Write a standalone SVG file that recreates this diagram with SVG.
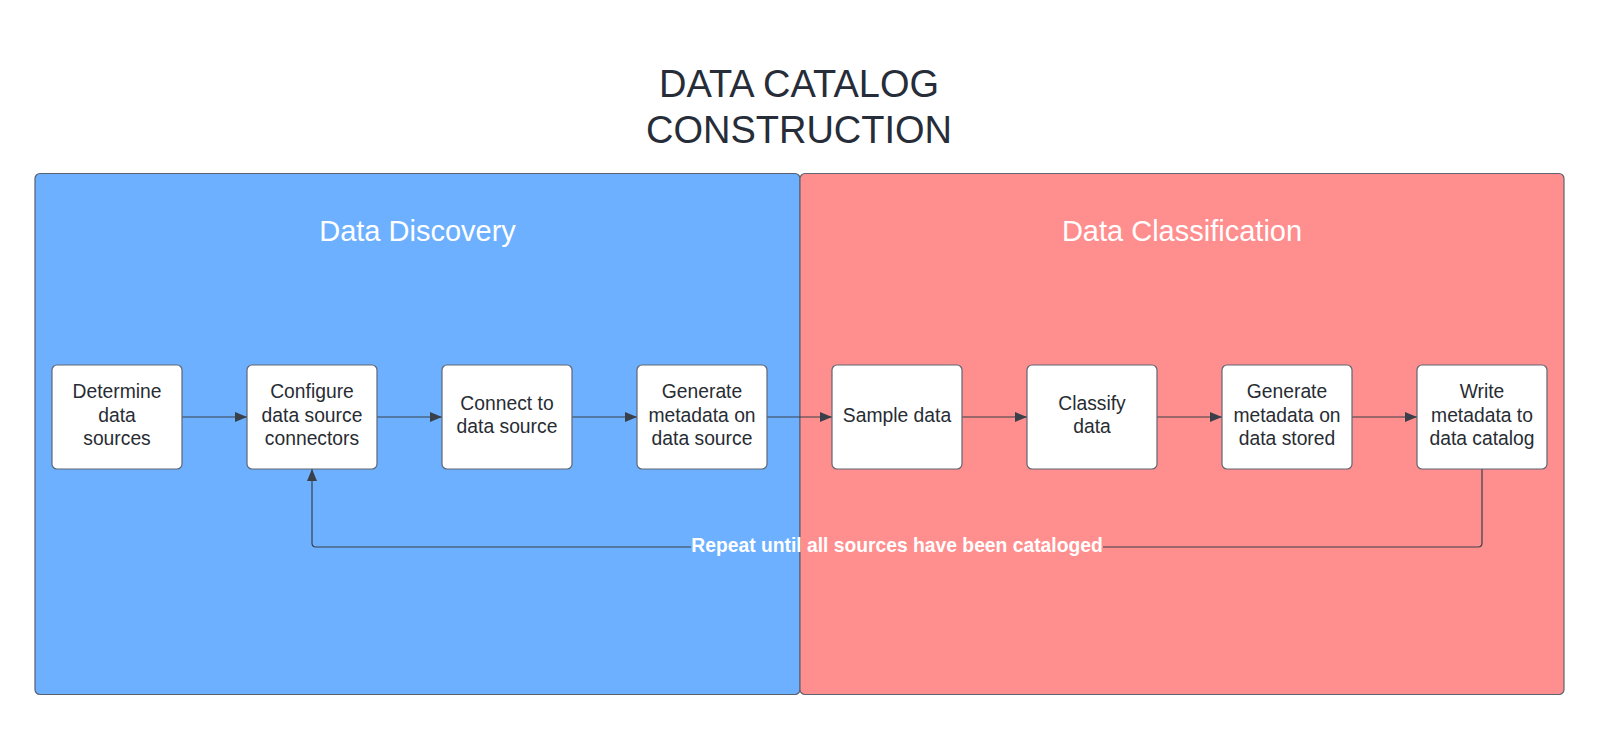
<svg xmlns="http://www.w3.org/2000/svg" width="1600" height="730" viewBox="0 0 1600 730">
<defs>
<marker id="ah" viewBox="0 0 12 10" refX="12" refY="5" markerWidth="12" markerHeight="10" markerUnits="userSpaceOnUse" orient="auto">
<path d="M0,0 L12,5 L0,10 z" fill="#3a4049"/>
</marker>
</defs>
<style>
.title{font-family:"Liberation Sans",Arial,sans-serif;font-size:38px;fill:#272d38;text-anchor:middle}
.head{font-family:"Liberation Sans",Arial,sans-serif;font-size:29px;fill:#ffffff;text-anchor:middle}
.box{fill:#ffffff;stroke:#5f6672;stroke-width:1.2}
.lbl{font-family:"Liberation Sans",Arial,sans-serif;font-size:19.3px;fill:#282c33;text-anchor:middle}
.conn{fill:none;stroke:#3a4049;stroke-width:1.2}
.rep{font-family:"Liberation Sans",Arial,sans-serif;font-size:19.3px;font-weight:bold;fill:#ffffff;text-anchor:middle}
</style>
<rect width="1600" height="730" fill="#ffffff"/>
<g id="title">
<text class="title" x="799" y="97">DATA CATALOG</text>
<text class="title" x="799" y="143">CONSTRUCTION</text>
</g>
<g id="panel-discovery">
<rect x="35" y="173.5" width="765" height="521" rx="5" fill="#6db0ff" stroke="#56606e" stroke-width="1.2"/>
<text class="head" x="417.5" y="241">Data Discovery</text>
</g>
<g id="panel-classification">
<rect x="800" y="173.5" width="764" height="521" rx="5" fill="#ff8e8e" stroke="#5e6470" stroke-width="1.2"/>
<text class="head" x="1182" y="241">Data Classification</text>
</g>
<g id="connectors">
<line class="conn" x1="182" y1="417" x2="247" y2="417" marker-end="url(#ah)"/>
<line class="conn" x1="377" y1="417" x2="442" y2="417" marker-end="url(#ah)"/>
<line class="conn" x1="572" y1="417" x2="637" y2="417" marker-end="url(#ah)"/>
<line class="conn" x1="767" y1="417" x2="832" y2="417" marker-end="url(#ah)"/>
<line class="conn" x1="962" y1="417" x2="1027" y2="417" marker-end="url(#ah)"/>
<line class="conn" x1="1157" y1="417" x2="1222" y2="417" marker-end="url(#ah)"/>
<line class="conn" x1="1352" y1="417" x2="1417" y2="417" marker-end="url(#ah)"/>
<path class="conn" d="M1482,469 V543 Q1482,547 1478,547 H1103"/>
<path class="conn" d="M691,547 H316 Q312,547 312,543 V469" marker-end="url(#ah)"/>
<text class="rep" x="897" y="552">Repeat until all sources have been cataloged</text>
</g>
<g id="n1">
<rect class="box" x="52" y="365" width="130" height="104" rx="5"/>
<text class="lbl" x="117" y="398">Determine</text>
<text class="lbl" x="117" y="421.5">data</text>
<text class="lbl" x="117" y="445">sources</text>
</g>
<g id="n2">
<rect class="box" x="247" y="365" width="130" height="104" rx="5"/>
<text class="lbl" x="312" y="398">Configure</text>
<text class="lbl" x="312" y="421.5">data source</text>
<text class="lbl" x="312" y="445">connectors</text>
</g>
<g id="n3">
<rect class="box" x="442" y="365" width="130" height="104" rx="5"/>
<text class="lbl" x="507" y="409.5">Connect to</text>
<text class="lbl" x="507" y="433">data source</text>
</g>
<g id="n4">
<rect class="box" x="637" y="365" width="130" height="104" rx="5"/>
<text class="lbl" x="702" y="398">Generate</text>
<text class="lbl" x="702" y="421.5">metadata on</text>
<text class="lbl" x="702" y="445">data source</text>
</g>
<g id="n5">
<rect class="box" x="832" y="365" width="130" height="104" rx="5"/>
<text class="lbl" x="897" y="422">Sample data</text>
</g>
<g id="n6">
<rect class="box" x="1027" y="365" width="130" height="104" rx="5"/>
<text class="lbl" x="1092" y="409.5">Classify</text>
<text class="lbl" x="1092" y="433">data</text>
</g>
<g id="n7">
<rect class="box" x="1222" y="365" width="130" height="104" rx="5"/>
<text class="lbl" x="1287" y="398">Generate</text>
<text class="lbl" x="1287" y="421.5">metadata on</text>
<text class="lbl" x="1287" y="445">data stored</text>
</g>
<g id="n8">
<rect class="box" x="1417" y="365" width="130" height="104" rx="5"/>
<text class="lbl" x="1482" y="398">Write</text>
<text class="lbl" x="1482" y="421.5">metadata to</text>
<text class="lbl" x="1482" y="445">data catalog</text>
</g>
</svg>
